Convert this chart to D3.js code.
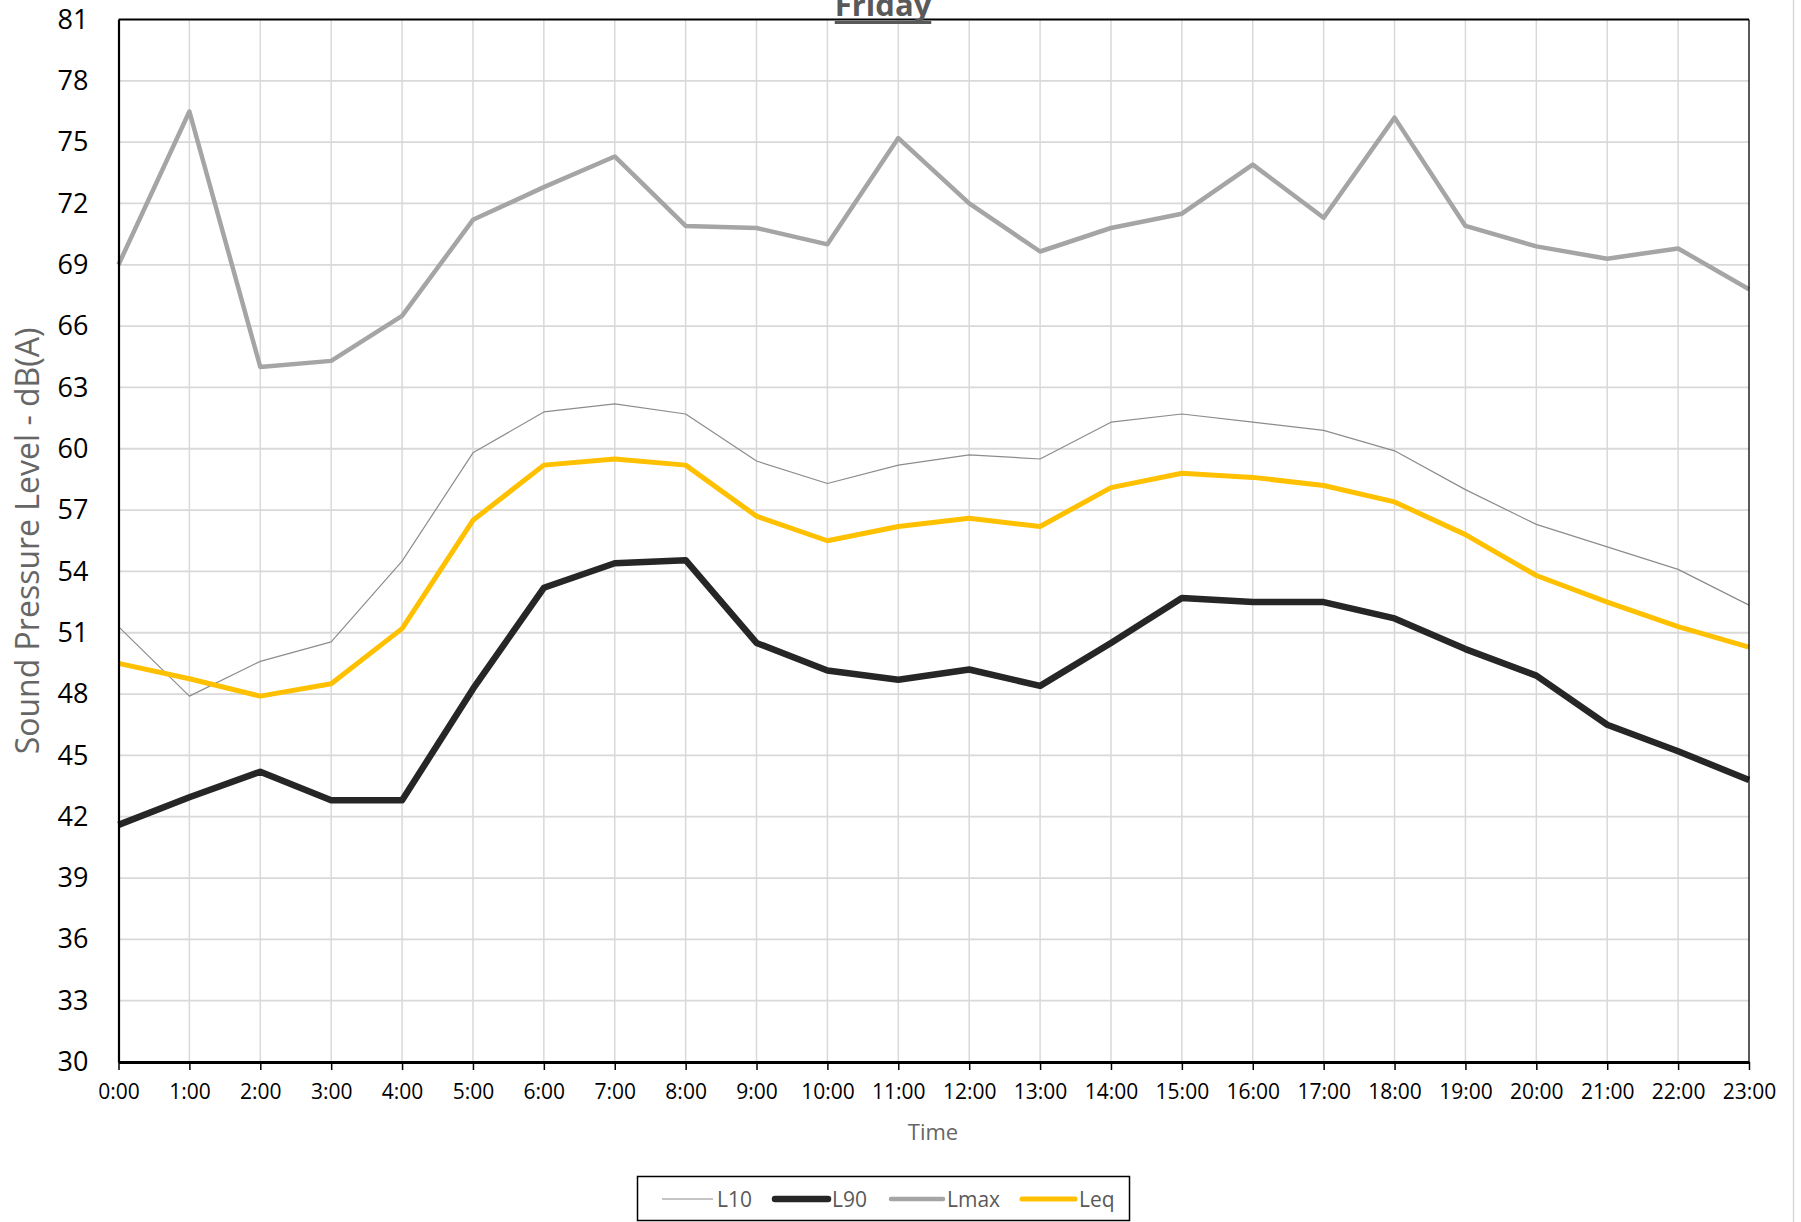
<!DOCTYPE html>
<html>
<head>
<meta charset="utf-8">
<script src="https://cdn.jsdelivr.net/npm/d3@7/dist/d3.min.js"></script>
<style>
  html, body { margin: 0; padding: 0; background: #fff; }
  svg { display: block; font-family: "Open Sans", "Liberation Sans", sans-serif; }
</style>
</head>
<body>
<svg id="chart" width="1801" height="1222"></svg>
<script>
// Hourly sound pressure levels, dB(A)
const hours = ["0:00","1:00","2:00","3:00","4:00","5:00","6:00","7:00","8:00","9:00","10:00","11:00",
               "12:00","13:00","14:00","15:00","16:00","17:00","18:00","19:00","20:00","21:00","22:00","23:00"];

const L10  = [51.3, 47.9, 49.6, 50.55, 54.5, 59.8, 61.8, 62.2, 61.7, 59.4, 58.3, 59.2,
              59.7, 59.5, 61.3, 61.7, 61.3, 60.9, 59.9, 58.0, 56.3, 55.2, 54.1, 52.35];
const L90  = [41.6, 42.95, 44.2, 42.8, 42.8, 48.25, 53.2, 54.4, 54.55, 50.5, 49.15, 48.7,
              49.2, 48.4, 50.5, 52.7, 52.5, 52.5, 51.7, 50.2, 48.9, 46.5, 45.2, 43.8];
const Lmax = [69.0, 76.5, 64.0, 64.3, 66.5, 71.2, 72.8, 74.3, 70.9, 70.8, 70.0, 75.2,
              72.0, 69.65, 70.8, 71.5, 73.9, 71.3, 76.2, 70.9, 69.9, 69.3, 69.8, 67.8];
const Leq  = [49.5, 48.75, 47.9, 48.5, 51.2, 56.5, 59.2, 59.5, 59.2, 56.7, 55.5, 56.2,
              56.6, 56.2, 58.1, 58.8, 58.6, 58.2, 57.4, 55.8, 53.8, 52.5, 51.3, 50.3];

const yTicks = [30, 33, 36, 39, 42, 45, 48, 51, 54, 57, 60, 63, 66, 69, 72, 75, 78, 81];

const seriesNames = ["L10", "L90", "Lmax", "Leq"];
const seriesValues = [L10, L90, Lmax, Leq];

const styles = {
  L10:  { color: "#8c8c8c", width: 1.2 },
  L90:  { color: "#262626", width: 6.5 },
  Lmax: { color: "#a5a5a5", width: 4.5 },
  Leq:  { color: "#ffc000", width: 5 }
};

const plot = { left: 118.5, right: 1749, top: 19.5, bottom: 1062 };

const svg = d3.select("#chart");
svg.append("rect").attr("width", 1801).attr("height", 1222).attr("fill", "#fff");

const x = d3.scalePoint().domain(hours).range([plot.left, plot.right]);
const y = d3.scaleLinear().domain([30, 81]).range([plot.bottom, plot.top]);

// outer chart frame edge on the right
svg.append("line")
  .attr("x1", 1793.5).attr("x2", 1793.5).attr("y1", 0).attr("y2", 1222)
  .attr("stroke", "#d9d9d9").attr("stroke-width", 1.5);

// gridlines
const grid = svg.append("g");
grid.selectAll("line.h").data(yTicks.filter(d => d > 30 && d < 81)).join("line")
  .attr("x1", plot.left).attr("x2", plot.right)
  .attr("y1", d => y(d)).attr("y2", d => y(d))
  .attr("stroke", "#d9d9d9").attr("stroke-width", 1.8);
grid.selectAll("line.v").data(hours.slice(1, -1)).join("line")
  .attr("x1", d => x(d)).attr("x2", d => x(d))
  .attr("y1", plot.top).attr("y2", plot.bottom)
  .attr("stroke", "#d9d9d9").attr("stroke-width", 1.5);

// data lines
const line = d3.line().x((d, i) => x(hours[i])).y(d => y(d)).curve(d3.curveLinear);
seriesNames.forEach((name, k) => {
  svg.append("path")
    .datum(seriesValues[k])
    .attr("d", line)
    .attr("fill", "none")
    .attr("stroke", styles[name].color)
    .attr("stroke-width", styles[name].width)
    .attr("stroke-linejoin", "round")
    .attr("stroke-linecap", "butt");
});

// plot border
svg.append("line").attr("x1", plot.left).attr("x2", plot.right).attr("y1", plot.top).attr("y2", plot.top)
  .attr("stroke", "#000").attr("stroke-width", 1.8);
svg.append("line").attr("x1", plot.right).attr("x2", plot.right).attr("y1", plot.top).attr("y2", plot.bottom)
  .attr("stroke", "#000").attr("stroke-width", 1.3);

// y axis
const yAxis = d3.axisLeft(y).tickValues(yTicks).tickSize(0).tickPadding(30).tickFormat(d3.format("d"));
const gy = svg.append("g").attr("transform", `translate(${plot.left},0)`).call(yAxis);
gy.select(".domain").attr("stroke", "#000").attr("stroke-width", 2.2);
gy.selectAll("text").attr("font-size", 27).attr("fill", "#000")
  .attr("font-family", "'Open Sans', sans-serif");

// x axis
const xAxis = d3.axisBottom(x).tickSize(8).tickPadding(14).tickSizeOuter(0);
const gx = svg.append("g").attr("transform", `translate(0,${plot.bottom})`).call(xAxis);
gx.select(".domain").attr("stroke", "#000").attr("stroke-width", 3);
gx.selectAll(".tick line").attr("stroke", "#000").attr("stroke-width", 1.5);
gx.selectAll("text").attr("font-size", 21).attr("fill", "#000")
  .attr("font-family", "'Open Sans', sans-serif");

// axis titles
svg.append("text")
  .attr("transform", "translate(39,541) rotate(-90)")
  .attr("text-anchor", "middle")
  .attr("font-size", 32).attr("fill", "#666")
  .text("Sound Pressure Level - dB(A)");

svg.append("text")
  .attr("x", 933).attr("y", 1140)
  .attr("text-anchor", "middle")
  .attr("font-size", 22).attr("fill", "#666")
  .text("Time");

// title with underline
const title = svg.append("text")
  .attr("x", 883).attr("y", 16)
  .attr("text-anchor", "middle")
  .attr("font-size", 31).attr("font-weight", "bold").attr("fill", "#595959")
  .text("Friday");
const tw = title.node().getComputedTextLength();
svg.append("rect")
  .attr("x", 883 - tw / 2).attr("y", 21).attr("width", tw).attr("height", 3)
  .attr("fill", "#595959");

// legend
const legend = svg.append("g");
legend.append("rect")
  .attr("x", 637.5).attr("y", 1176.5).attr("width", 492).attr("height", 44)
  .attr("fill", "#fff").attr("stroke", "#000").attr("stroke-width", 1.5);
const legendItems = [
  { name: "L10",  x1: 662, x2: 713 },
  { name: "L90",  x1: 775, x2: 828 },
  { name: "Lmax", x1: 891, x2: 943 },
  { name: "Leq",  x1: 1022, x2: 1075 }
];
const ly = 1199;
legendItems.forEach(it => {
  const s = styles[it.name];
  legend.append("line")
    .attr("x1", it.x1).attr("x2", it.x2).attr("y1", ly).attr("y2", ly)
    .attr("stroke", s.color).attr("stroke-width", s.width)
    .attr("stroke-linecap", s.width > 2 ? "round" : "butt");
  legend.append("text")
    .attr("x", it.x2 + 4).attr("y", ly + 7.5)
    .attr("font-size", 21).attr("fill", "#595959")
    .text(it.name);
});
</script>
</body>
</html>
